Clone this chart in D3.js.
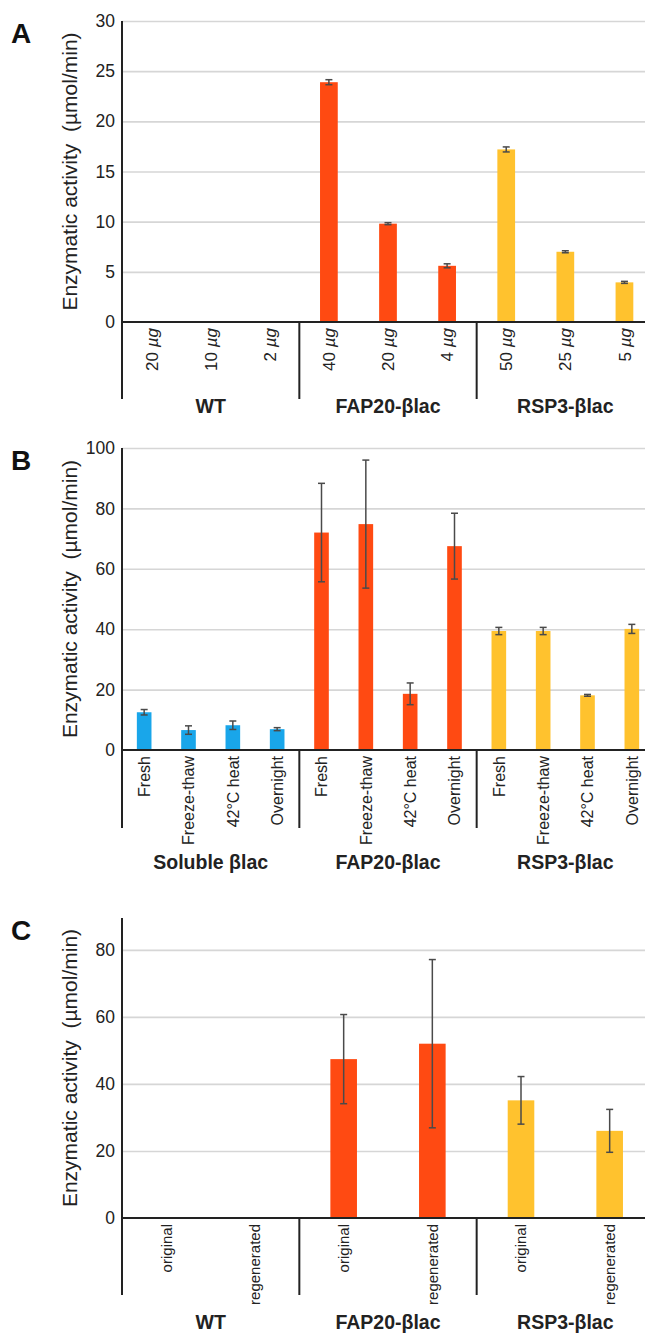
<!DOCTYPE html>
<html>
<head>
<meta charset="utf-8">
<script src="https://cdn.jsdelivr.net/npm/d3@7"></script>
<style>
  body { margin: 0; background: #fff; }
  svg { display: block; font-family: "Liberation Sans", Arial, Helvetica, sans-serif; }
</style>
</head>
<body>
<svg id="chart" width="645" height="1334"></svg>
<script>
// panel A
const groupsA = ["WT", "FAP20-βlac", "RSP3-βlac"];
const labelsA = ["20 µg", "10 µg", "2 µg", "40 µg", "20 µg", "4 µg", "50 µg", "25 µg", "5 µg"];
const valuesA = [0, 0, 0, 23.9, 9.8, 5.6, 17.2, 7.0, 3.95];
const errorsA = [0, 0, 0, 0.25, 0.1, 0.2, 0.25, 0.1, 0.1];
const ticksA = [0, 5, 10, 15, 20, 25, 30];

// panel B
const groupsB = ["Soluble βlac", "FAP20-βlac", "RSP3-βlac"];
const labelsB = ["Fresh", "Freeze-thaw", "42°C heat", "Overnight",
                 "Fresh", "Freeze-thaw", "42°C heat", "Overnight",
                 "Fresh", "Freeze-thaw", "42°C heat", "Overnight"];
const valuesB = [12.5, 6.6, 8.2, 6.9, 72.0, 74.8, 18.6, 67.5, 39.4, 39.4, 18.1, 40.1];
const errorsB = [0.9, 1.4, 1.4, 0.5, 16.3, 21.2, 3.6, 10.9, 1.2, 1.2, 0.3, 1.5];
const ticksB = [0, 20, 40, 60, 80, 100];

// panel C
const groupsC = ["WT", "FAP20-βlac", "RSP3-βlac"];
const labelsC = ["original", "regenerated", "original", "regenerated", "original", "regenerated"];
const valuesC = [0, 0, 47.4, 52.0, 35.1, 26.0];
const errorsC = [0, 0, 13.3, 25.1, 7.1, 6.4];
const ticksC = [0, 20, 40, 60, 80];

const red = "#ff4a12", yellow = "#ffc22e", blue = "#19a6ea";

const svg = d3.select("#chart");
const left = 122, right = 654;

const drawPanel = (p) => {
    const n = p.labels.length;
    const per = n / p.groups.length;
    const x = d3.scaleBand().domain(d3.range(n)).range([left, right]);
    const y = d3.scaleLinear().domain([0, p.max]).range([p.zero, p.top]);
    const g = svg.append("g");

    // gridlines
    g.append("g")
        .attr("transform", "translate(" + left + ",0)")
        .call(d3.axisLeft(y).tickValues(p.ticks.slice(1)).tickSize(-(right - left)).tickFormat(""))
        .call(a => a.select(".domain").remove())
        .call(a => a.selectAll("line").attr("stroke", "#d6d6d6").attr("stroke-width", 1.6));

    // y tick labels
    g.append("g")
        .attr("transform", "translate(" + left + ",0)")
        .call(d3.axisLeft(y).tickValues(p.ticks).tickSize(0).tickPadding(7))
        .call(a => a.select(".domain").remove())
        .call(a => a.selectAll("text").attr("font-size", 17.5).attr("fill", "#222").attr("font-family", null));

    // bars
    const bw = x.bandwidth() * p.barFrac;
    g.selectAll("rect.bar")
        .data(p.values.map((v, i) => ({ v, i })).filter(d => d.v > 0))
        .enter().append("rect")
        .attr("x", d => x(d.i) + (x.bandwidth() - bw) / 2)
        .attr("y", d => y(d.v))
        .attr("width", bw)
        .attr("height", d => y(0) - y(d.v))
        .attr("fill", d => p.colors[Math.floor(d.i / per)]);

    // error bars
    const eb = g.selectAll("g.err")
        .data(p.values.map((v, i) => ({ v, e: p.errors[i], i })).filter(d => d.v > 0))
        .enter().append("g")
        .attr("stroke", "#4a4a4a")
        .attr("stroke-width", 1.5);
    const cx = d => x(d.i) + x.bandwidth() / 2;
    eb.append("line")
        .attr("x1", cx).attr("x2", cx)
        .attr("y1", d => y(d.v + d.e)).attr("y2", d => y(d.v - d.e));
    [1, -1].forEach(s => {
        eb.append("line")
            .attr("x1", d => cx(d) - 3.5).attr("x2", d => cx(d) + 3.5)
            .attr("y1", d => y(d.v + s * d.e)).attr("y2", d => y(d.v + s * d.e));
    });

    // axis lines
    g.append("line")
        .attr("x1", left).attr("x2", left)
        .attr("y1", y(p.max)).attr("y2", p.lineBottom)
        .attr("stroke", "#222").attr("stroke-width", 2);
    g.append("line")
        .attr("x1", left).attr("x2", right)
        .attr("y1", y(0)).attr("y2", y(0))
        .attr("stroke", "#222").attr("stroke-width", 2);
    d3.range(1, p.groups.length).forEach(k => {
        g.append("line")
            .attr("x1", x(k * per)).attr("x2", x(k * per))
            .attr("y1", y(0)).attr("y2", p.lineBottom)
            .attr("stroke", "#222").attr("stroke-width", 2);
    });

    // category labels, rotated
    const lab = g.selectAll("text.cat")
        .data(p.labels)
        .enter().append("text")
        .attr("transform", (d, i) => "translate(" + (x(i) + x.bandwidth() / 2) + "," + (y(0) + 6) + ") rotate(-90)")
        .attr("text-anchor", "end")
        .attr("dy", "0.36em")
        .attr("font-size", p.labelSize)
        .attr("fill", "#222");
    if (p.italicUnit) {
        lab.append("tspan").text(d => d.split(" ")[0] + " ");
        lab.append("tspan").attr("font-style", "italic").text(d => d.split(" ")[1]);
    } else {
        lab.text(d => d);
    }

    // group labels
    g.selectAll("text.grp")
        .data(p.groups)
        .enter().append("text")
        .attr("x", (d, k) => (x(k * per) + (k == p.groups.length - 1 ? right : x((k + 1) * per))) / 2)
        .attr("y", p.groupY)
        .attr("text-anchor", "middle")
        .attr("font-size", 19.5)
        .attr("font-weight", "bold")
        .attr("fill", "#222")
        .text(d => d);

    // y title
    g.append("text")
        .attr("transform", "translate(77," + (y(p.max) + y(0)) / 2 + ") rotate(-90)")
        .attr("text-anchor", "middle")
        .attr("font-size", 21)
        .attr("fill", "#222")
        .text("Enzymatic activity\u00a0\u00a0(µmol/min)");

    // panel letter
    g.append("text")
        .attr("x", 11).attr("y", p.letterY)
        .attr("font-size", 28)
        .attr("font-weight", "bold")
        .attr("fill", "#111")
        .text(p.letter);
};

drawPanel({ letter: "A", letterY: 43, groups: groupsA, labels: labelsA, values: valuesA, errors: errorsA,
    ticks: ticksA, max: 30, top: 21, zero: 322, lineBottom: 399, groupY: 413,
    colors: ["#999", red, yellow], barFrac: 0.3, labelSize: 17, italicUnit: true });

drawPanel({ letter: "B", letterY: 470, groups: groupsB, labels: labelsB, values: valuesB, errors: errorsB,
    ticks: ticksB, max: 100, top: 448, zero: 750, lineBottom: 828, groupY: 869,
    colors: [blue, red, yellow], barFrac: 0.33, labelSize: 16, italicUnit: false });

drawPanel({ letter: "C", letterY: 940, groups: groupsC, labels: labelsC, values: valuesC, errors: errorsC,
    ticks: ticksC, max: 89.5, top: 918, zero: 1218, lineBottom: 1295, groupY: 1329,
    colors: ["#999", red, yellow], barFrac: 0.3, labelSize: 15, italicUnit: false });
</script>
</body>
</html>
